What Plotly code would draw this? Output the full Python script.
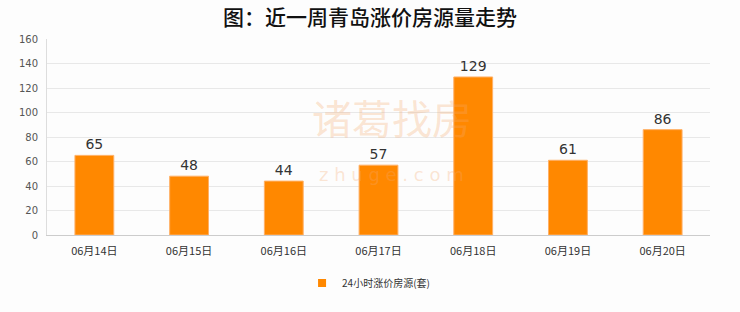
import plotly.graph_objects as go

categories = ["06月14日", "06月15日", "06月16日", "06月17日", "06月18日", "06月19日", "06月20日"]
values = [65, 48, 44, 57, 129, 61, 86]
series_name = "24小时涨价房源(套)"
title_text = "图：近一周青岛涨价房源量走势"
y_ticks = [0, 20, 40, 60, 80, 100, 120, 140, 160]

fig = go.Figure()
fig.add_trace(go.Bar(
    x=categories, y=values, name=series_name,
    marker=dict(color="#ff8800", line=dict(color="#ffb066", width=1)),
    width=0.41,
    text=[str(v) for v in values], textposition="outside",
    textfont=dict(size=14, color="#333333", family="DejaVu Sans"),
    cliponaxis=False,
    showlegend=False,
))
fig.add_trace(go.Scatter(
    x=[None], y=[None], mode="markers", name=series_name,
    marker=dict(symbol="square", size=8, color="#ff8800"),
    showlegend=True,
))

fig.update_layout(
    width=740, height=312,
    paper_bgcolor="#fdfdfd", plot_bgcolor="#fdfdfd",
    margin=dict(l=47, r=30, t=39, b=77),
    title=dict(text=title_text, x=0.5, xanchor="center", y=0.945, yanchor="middle",
               font=dict(size=21, color="#111111", family="Noto Sans CJK SC", weight=500)),
    showlegend=True,
    legend=dict(orientation="h", x=0.485, xanchor="center", y=-0.245, yanchor="middle",
                font=dict(size=10, color="#333333", family="Noto Sans CJK SC"),
                itemwidth=30, bgcolor="rgba(0,0,0,0)"),
    xaxis=dict(showline=True, linecolor="#cccccc", linewidth=1, ticks="",
               tickfont=dict(size=11, color="#333333", family="Noto Sans CJK SC"),
               showgrid=False, ticklabelstandoff=6),
    yaxis=dict(range=[0, 160], tickvals=y_ticks, showline=True, linecolor="#dddddd",
               gridcolor="#e8e8e8", gridwidth=1, zeroline=False,
               tickfont=dict(size=10, color="#555555", family="DejaVu Sans"),
               ticks="", ticklabelstandoff=6),
)

fig.add_annotation(text="诸葛找房", x=0.52, y=0.6, xref="paper", yref="paper",
                   xanchor="center", yanchor="middle", showarrow=False,
                   font=dict(size=40, color="rgba(245,170,110,0.3)", family="Noto Sans CJK SC"))
fig.add_annotation(text="z h u g e . c o m", x=0.52, y=0.31, xref="paper", yref="paper",
                   xanchor="center", yanchor="middle", showarrow=False,
                   font=dict(size=18, color="rgba(245,170,110,0.3)", family="DejaVu Sans"))

fig.write_html("out.html")
